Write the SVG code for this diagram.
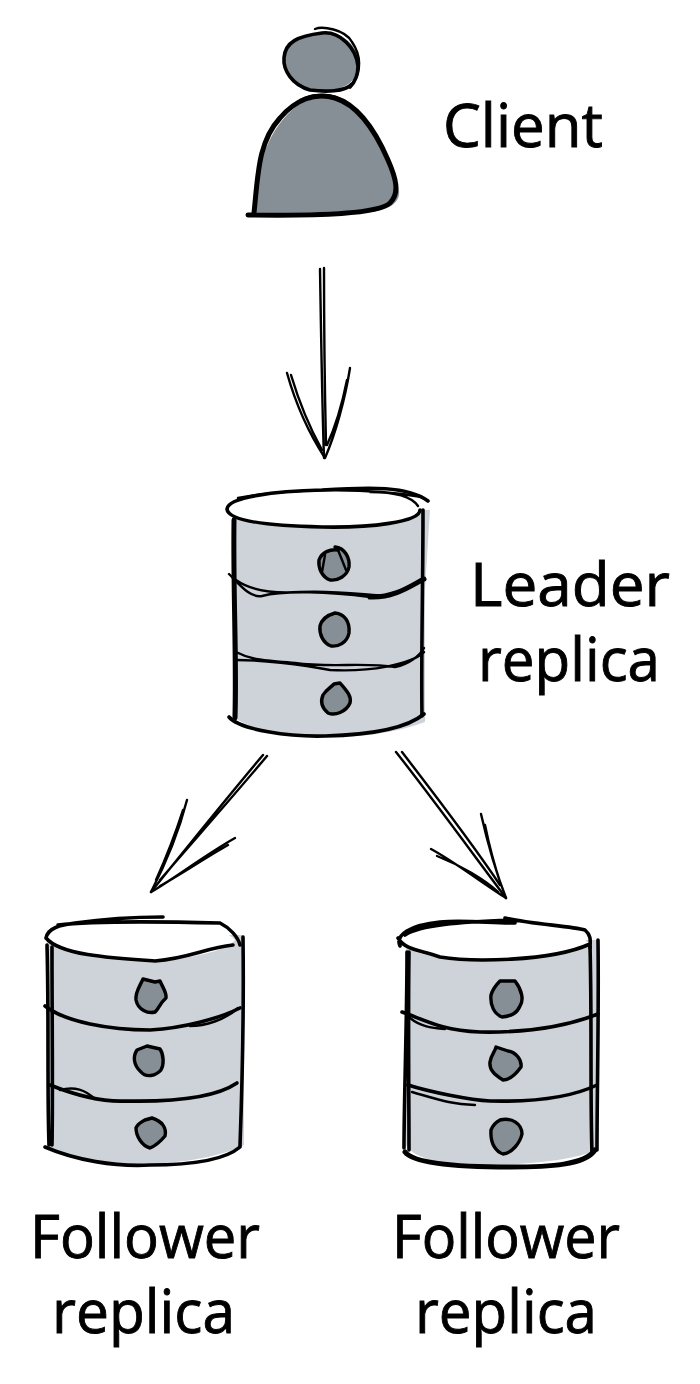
<svg xmlns="http://www.w3.org/2000/svg" width="700" height="1384" viewBox="0 0 700 1384">
<style>
.ink{fill:none;stroke:#000;stroke-linecap:round;stroke-linejoin:round}
.t2{stroke-width:2.4}.t3{stroke-width:3.6}.t4{stroke-width:5}
.body{fill:#ced3da}.dark{fill:#868e96}.top{fill:#fff}
.spot{fill:#868e96;stroke:#000;stroke-width:3.4;stroke-linejoin:round;stroke-linecap:round}
text{font-family:"Open Sans","Noto Sans","Liberation Sans",sans-serif;font-size:60px;fill:#000;font-weight:400;stroke:#000;stroke-width:.9px}
</style>
<rect width="700" height="1384" fill="#fff"/>
<g id="client">
<path class="dark" d="M322 33C345 31 359 48 359 65C358 82 342 91 322 91C300 91 285 78 284 60C284 45 300 34 322 33Z"/>
<path class="dark" d="M255 213C256 170 265 135 292 110C305 97 335 92 352 107C375 128 391 160 399 190C401 205 385 212 360 213C320 215 285 215 255 213Z"/>
<path class="ink t2" d="M315 29C322 26 345 29 352 42C361 55 362 72 352 84"/>
<path class="ink t3" d="M352 84C345 92 325 92 310 90C292 85 283 70 284 58C285 42 298 36 322 33C340 31 356 48 358 66C358 75 355 82 350 87"/>
<path class="ink t4" d="M248 215C320 216 378 214 390 203C400 193 396 178 388 160C375 130 358 105 335 98C315 92 295 100 280 118C258 142 258 175 254 213"/>
<path class="ink t2" d="M300 100C315 92 335 94 345 102"/>
<text x="443" y="147" textLength="160" lengthAdjust="spacingAndGlyphs">Client</text>
</g>
<g id="leader">
<path class="body" d="M232 510H430L425 590V722C390 735 350 738 320 737C285 737 250 730 232 716Z"/>
<path class="top" d="M322 490C370 488 418 495 420 510C420 522 370 528 322 527C275 526 228 522 227 509C228 497 275 491 322 490Z"/>
<path class="ink t3" d="M227 509C228 497 275 491 322 490C370 487 408 486 428 501M420 510C420 522 370 528 322 527C275 526 228 522 227 509"/>
<path class="ink t2" d="M238 498C280 490 360 486 422 497M370 492C395 492 412 497 418 506"/>
<path class="ink t4" d="M234 520C233 600 237 660 235 718"/>
<path class="ink t3" d="M423 510C423 590 421 660 422 716"/>
<path class="ink t3" d="M229 717C240 730 290 737 325 736C365 735 405 730 424 714"/>
<path class="ink t2" d="M229 574C240 585 250 598 262 596C285 590 330 592 370 597M236 580C250 590 270 594 300 592C340 590 370 596 390 596"/>
<path class="ink t4" d="M370 597C395 598 412 585 424 579"/>
<path class="ink t2" d="M236 652C255 662 270 660 295 663C330 668 365 662 395 667C410 664 420 655 424 648M236 660C260 660 300 664 330 670C370 672 410 665 424 652"/>
<path class="spot" d="M335 547C345 548 350 558 349 567C347 576 338 581 330 580C322 577 318 568 319 560C322 552 330 549 338 550"/>
<path class="ink t2" d="M338 550L346 570M325 555L322 572"/>
<path class="spot" d="M335 613C345 614 350 622 349 633C347 643 338 647 331 646C323 643 319 634 320 626C322 618 328 615 335 613Z"/>
<path class="spot" d="M334 684L340 683C346 690 352 696 350 703C346 712 335 716 328 713C322 708 320 702 323 695C326 690 330 688 334 684Z"/>
<text x="470" y="606" textLength="200" lengthAdjust="spacingAndGlyphs">Leader</text>
<text x="478" y="681" textLength="182" lengthAdjust="spacingAndGlyphs">replica</text>
</g>
<g id="follower-left">
<path class="body" d="M47 935H244V1145C205 1165 125 1168 85 1160C70 1155 55 1152 47 1146Z"/>
<path class="top" d="M138 922C180 922 222 925 235 940C225 952 190 958 155 961C110 958 60 955 46 938C55 925 95 922 138 922Z"/>
<path class="ink t3" d="M46 938C60 955 110 958 155 961C190 958 205 948 233 945M46 938C48 928 60 925 75 923C110 918 135 917 163 917M58 925C100 920 180 922 220 923C230 928 238 937 240 945"/>
<path class="ink t3" d="M47 945C49 1020 47 1090 49 1145M52 947C52 1020 53 1100 52 1145M243 937C244 1010 242 1090 240 1146"/>
<path class="ink t3" d="M45 1147C75 1160 115 1167 150 1165C190 1165 225 1160 240 1147"/>
<path class="ink t3" d="M45 1006C65 1022 110 1030 150 1030C185 1028 220 1018 240 1008"/>
<path class="ink t2" d="M190 1026C205 1026 225 1020 238 1008"/>
<path class="ink t3" d="M50 1085C70 1093 100 1102 125 1101C170 1102 215 1098 237 1083"/>
<path class="ink t2" d="M60 1090C75 1086 85 1090 95 1099"/>
<path class="spot" d="M143 979L155 982L160 981C163 988 167 993 166 998C160 1003 158 1010 155 1012C148 1014 138 1010 136 1000C135 992 140 986 143 979Z"/>
<path class="spot" d="M147 1046L160 1049C164 1055 164 1065 161 1070C156 1076 146 1078 141 1072C133 1065 133 1056 137 1050Z"/>
<path class="spot" d="M145 1120L152 1118C162 1121 167 1128 165 1136C160 1142 155 1146 150 1148C142 1146 136 1136 136 1128C138 1123 142 1122 145 1120Z"/>
<text x="30" y="1258" textLength="230" lengthAdjust="spacingAndGlyphs">Follower</text>
<text x="52" y="1333" textLength="183" lengthAdjust="spacingAndGlyphs">replica</text>
</g>
<g id="follower-right">
<path class="body" d="M406 940H598V1150C560 1165 480 1168 440 1162C420 1158 410 1152 406 1145Z"/>
<path class="top" d="M500 922C540 925 580 930 590 945C570 955 530 960 480 961C440 958 410 955 400 942C410 925 460 922 500 922Z"/>
<path class="ink t3" d="M400 946C395 935 410 925 440 922C465 920 490 923 515 923M398 938C405 950 420 950 440 957C470 962 550 962 590 944M505 918C530 924 570 926 585 930C592 936 590 942 590 948M405 935C420 925 460 922 510 920"/>
<path class="ink t3" d="M407 952C407 1020 404 1100 404 1148M409 952C408 1020 409 1100 409 1150M590 946C592 1020 590 1090 592 1154M598 940C599 1010 597 1090 597 1150"/>
<path class="ink t4" d="M405 1152C415 1165 470 1167 510 1167C550 1167 585 1165 595 1150"/>
<path class="ink t3" d="M402 1012C425 1020 440 1030 480 1032C530 1033 570 1025 598 1014"/>
<path class="ink t2" d="M410 1018C420 1026 430 1028 445 1029"/>
<path class="ink t3" d="M408 1085C430 1092 470 1100 490 1101C530 1102 570 1098 597 1085"/>
<path class="ink t2" d="M412 1092C440 1100 450 1104 475 1105"/>
<path class="spot" d="M500 981L515 981C522 990 524 1000 520 1006C517 1013 512 1016 502 1017C494 1014 490 1005 491 995C493 988 497 984 500 981Z"/>
<path class="spot" d="M496 1047L508 1051C516 1052 522 1060 521 1067C516 1074 510 1080 503 1080C495 1075 489 1070 490 1062C491 1055 495 1052 496 1047Z"/>
<path class="spot" d="M500 1120C512 1117 522 1124 522 1134C520 1143 512 1153 503 1154C497 1152 490 1145 491 1130C493 1125 496 1122 500 1120Z"/>
<text x="392" y="1258" textLength="228" lengthAdjust="spacingAndGlyphs">Follower</text>
<text x="415" y="1333" textLength="182" lengthAdjust="spacingAndGlyphs">replica</text>
</g>
<g id="connectors">
<path class="ink t2" d="M320 269C321 330 322 400 324 458M324 268C324 330 325 400 326 445"/>
<path class="ink t2" d="M287 373C296 405 310 435 325 458M291 375C300 405 312 432 322 450M350 368C345 400 335 435 325 458M347 380C342 405 334 430 327 445"/>
<path class="ink t2" d="M263 755C225 800 185 850 151 892M267 756C230 800 190 845 160 880"/>
<path class="ink t2" d="M187 800C178 835 165 865 151 892M183 810C175 835 165 860 156 880M235 838C205 855 175 878 151 892M228 845C205 858 180 875 160 886"/>
<path class="ink t2" d="M396 752C430 795 470 850 506 898M402 752C435 795 470 840 500 885"/>
<path class="ink t2" d="M481 814C488 845 497 875 506 898M485 825C490 850 496 870 501 885M431 849C455 862 485 885 506 898M437 856C460 865 485 880 498 892"/>
</g>
</svg>
